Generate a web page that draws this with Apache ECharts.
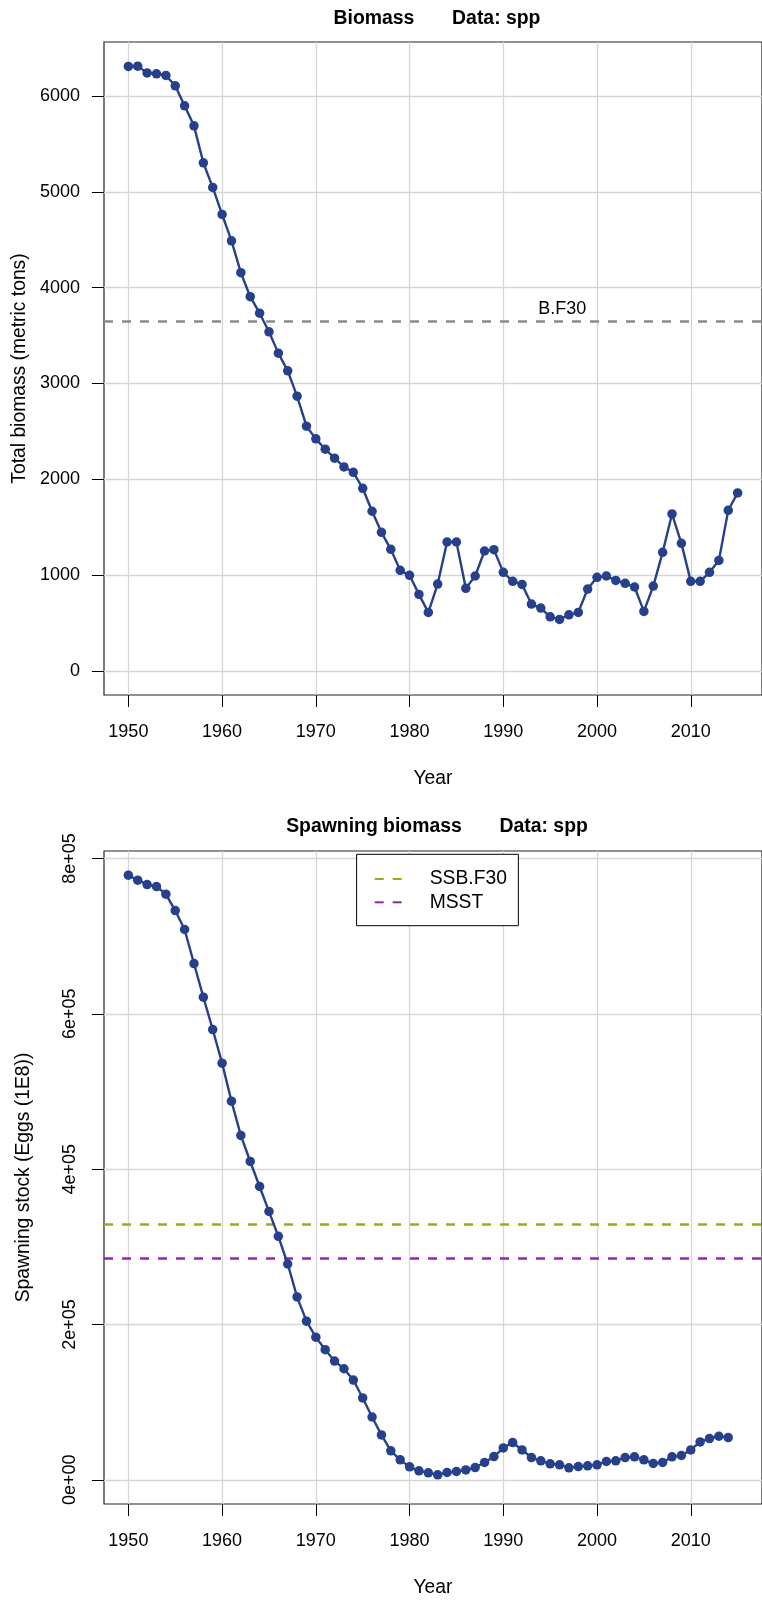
<!DOCTYPE html>
<html><head><meta charset="utf-8">
<script src="https://cdn.jsdelivr.net/npm/echarts@6/dist/echarts.min.js"></script>
<style>html,body{margin:0;padding:0;background:#fff;}#chart{width:762px;height:1600px;}</style>
</head><body><div id="chart"></div>
<script>
// ---- data ----
const yearsTop = [1950,1951,1952,1953,1954,1955,1956,1957,1958,1959,
  1960,1961,1962,1963,1964,1965,1966,1967,1968,1969,
  1970,1971,1972,1973,1974,1975,1976,1977,1978,1979,
  1980,1981,1982,1983,1984,1985,1986,1987,1988,1989,
  1990,1991,1992,1993,1994,1995,1996,1997,1998,1999,
  2000,2001,2002,2003,2004,2005,2006,2007,2008,2009,
  2010,2011,2012,2013,2014,2015];
const biomass = [6310,6313,6243,6233,6216,6108,5899,5690,5304,5047,
  4765,4490,4157,3906,3734,3540,3317,3132,2868,2554,
  2422,2314,2220,2129,2073,1906,1666,1446,1268,1049,
  997,798,610,906,1345,1345,861,990,1251,1265,
  1028,934,902,697,655,564,537,585,610,854,
  976,990,944,913,875,620,885,1237,1638,1331,
  934,934,1028,1153,1676,1857];
const yearsBottom = [1950,1951,1952,1953,1954,1955,1956,1957,1958,1959,
  1960,1961,1962,1963,1964,1965,1966,1967,1968,1969,
  1970,1971,1972,1973,1974,1975,1976,1977,1978,1979,
  1980,1981,1982,1983,1984,1985,1986,1987,1988,1989,
  1990,1991,1992,1993,1994,1995,1996,1997,1998,1999,
  2000,2001,2002,2003,2004,2005,2006,2007,2008,2009,
  2010,2011,2012,2013,2014];
const ssb = [778500,772100,766500,763900,754100,733000,708600,664800,621500,579800,
  536500,487500,443500,409900,377700,345600,313500,277900,235500,204300,
  183700,167500,152900,143000,128500,105400,80900,57800,37300,25700,
  16700,11600,9000,6400,9400,10700,12800,15800,22300,30000,
  41100,48000,38500,28700,24400,20600,19300,15400,17100,18000,
  19300,23600,24400,28700,29600,25700,21000,22300,29600,31300,
  38500,48800,53100,56100,54400];
const bF30 = 3645;
const bF30LabelYear = 1996.3;
const ssbF30 = 328500;
const msst = 284800;
const xTicks = [1950,1960,1970,1980,1990,2000,2010];
const topYTicks = [0,1000,2000,3000,4000,5000,6000];
const bottomYTicks = [0,200000,400000,600000,800000];
const bottomYTickLabels = ['0e+00','2e+05','4e+05','6e+05','8e+05'];
const topTitle = 'Biomass       Data: spp';
const bottomTitle = 'Spawning biomass       Data: spp';
const legendNames = ['SSB.F30','MSST'];

// ---- style ----
const FONT = "'Liberation Sans', Arial, Helvetica, sans-serif";
const BLUE = '#27408b';
const GREY = '#8a8a8a';
const GREEN = '#8db21c';
const PURPLE = '#9a22b3';
const GRIDC = '#d6d6d6';
const xMin = 1947.4, xMax = 2017.6;

const chart = echarts.init(document.getElementById('chart'), null, {renderer:'canvas'});

function xAxisCfg(gi) {
  return {
    type:'value', gridIndex:gi, min:xMin, max:xMax,
    name:'Year', nameLocation:'middle', nameGap:74,
    nameTextStyle:{fontSize:19.3, color:'#000', fontFamily:FONT},
    axisLine:{show:false, onZero:false},
    axisTick:{show:true, length:12, lineStyle:{color:'#000', width:1}, customValues:xTicks},
    axisLabel:{customValues:xTicks, margin:28, fontSize:18, color:'#000', fontFamily:FONT, formatter:v=>String(v)},
    splitLine:{show:true, lineStyle:{color:GRIDC, width:1.3}}
  };
}

const option = {
  animation:false,
  backgroundColor:'#fff',
  graphic:[
    {type:'text', x:437, y:18.5, style:{text:topTitle, font:'bold 19.4px '+FONT, fill:'#000', align:'center', verticalAlign:'middle', textAlign:'center', textVerticalAlign:'middle'}},
    {type:'text', x:437, y:827, style:{text:bottomTitle, font:'bold 19.4px '+FONT, fill:'#000', align:'center', verticalAlign:'middle', textAlign:'center', textVerticalAlign:'middle'}}
  ],
  grid:[
    {left:104, top:42, width:666, height:653, show:true, borderColor:'#222', borderWidth:1.2, backgroundColor:'transparent'},
    {left:104, top:851, width:666, height:653, show:true, borderColor:'#222', borderWidth:1.2, backgroundColor:'transparent'}
  ],
  xAxis:[xAxisCfg(0), xAxisCfg(1)],
  yAxis:[
    {type:'value', gridIndex:0, min:-252.5, max:6565.5,
     name:'Total biomass (metric tons)', nameLocation:'middle', nameGap:71,
     nameTextStyle:{fontSize:19.3, color:'#000', fontFamily:FONT},
     axisLine:{show:false, onZero:false},
     axisTick:{show:true, length:12, lineStyle:{color:'#000', width:1}, customValues:topYTicks},
     axisLabel:{customValues:topYTicks, margin:24, fontSize:18, color:'#000', fontFamily:FONT, formatter:v=>String(v)},
     splitLine:{show:true, lineStyle:{color:GRIDC, width:1.3}}},
    {type:'value', gridIndex:1, min:-31140, max:809680,
     name:'Spawning stock (Eggs (1E8))', nameLocation:'middle', nameGap:71,
     nameTextStyle:{fontSize:19.3, color:'#000', fontFamily:FONT},
     axisLine:{show:false, onZero:false},
     axisTick:{show:true, length:12, lineStyle:{color:'#000', width:1}, customValues:bottomYTicks},
     axisLabel:{customValues:bottomYTicks, margin:25, rotate:90, fontSize:18, color:'#000', fontFamily:FONT,
       formatter:v=>{const i=bottomYTicks.indexOf(v); return i>=0?bottomYTickLabels[i]:'';}},
     splitLine:{show:true, lineStyle:{color:GRIDC, width:1.3}}}
  ],
  legend:{
    data:legendNames, orient:'vertical', left:356.6, top:854.3,
    padding:[14.7,11.5,13.4,17.1], itemWidth:29, itemHeight:20, itemGap:3.3,
    borderColor:'#000', borderWidth:1, backgroundColor:'#fff', selectedMode:false,
    itemStyle:{color:'transparent', borderWidth:0, opacity:0},
    textStyle:{fontSize:19.3, color:'#000', fontFamily:FONT, lineHeight:20, padding:[0,0,0,21]}
  },
  series:[
    {name:'B.F30', type:'line', xAxisIndex:0, yAxisIndex:0, data:[], symbol:'none',
     markLine:{silent:true, symbol:['none','none'], label:{show:false},
       lineStyle:{type:[9,9], width:2.5, color:GREY}, data:[{yAxis:bF30}]},
     markPoint:{silent:true, symbol:'circle', symbolSize:0,
       label:{show:true, formatter:'B.F30', position:'inside', offset:[0,-13], fontSize:18, color:'#000', fontFamily:FONT},
       data:[{coord:[bF30LabelYear, bF30]}]}},
    {name:'Biomass', type:'line', xAxisIndex:0, yAxisIndex:0,
     data:yearsTop.map((y,i)=>[y,biomass[i]]),
     symbol:'circle', symbolSize:9.5, lineStyle:{color:BLUE, width:2.4}, itemStyle:{color:BLUE}, z:5},
    {name:'SSB.F30', type:'line', xAxisIndex:1, yAxisIndex:1, data:[], symbol:'none',
     itemStyle:{color:'transparent'},
     lineStyle:{type:[9,9], width:2.5, color:GREEN},
     markLine:{silent:true, symbol:['none','none'], label:{show:false},
       lineStyle:{type:[9,9], width:2.5, color:GREEN}, data:[{yAxis:ssbF30}]}},
    {name:'MSST', type:'line', xAxisIndex:1, yAxisIndex:1, data:[], symbol:'none',
     itemStyle:{color:'transparent'},
     lineStyle:{type:[9,9], width:2.5, color:PURPLE},
     markLine:{silent:true, symbol:['none','none'], label:{show:false},
       lineStyle:{type:[9,9], width:2.5, color:PURPLE}, data:[{yAxis:msst}]}},
    {name:'SSB', type:'line', xAxisIndex:1, yAxisIndex:1,
     data:yearsBottom.map((y,i)=>[y,ssb[i]]),
     symbol:'circle', symbolSize:9.5, lineStyle:{color:BLUE, width:2.4}, itemStyle:{color:BLUE}, z:5}
  ]
};
chart.setOption(option);
</script>
</body></html>
